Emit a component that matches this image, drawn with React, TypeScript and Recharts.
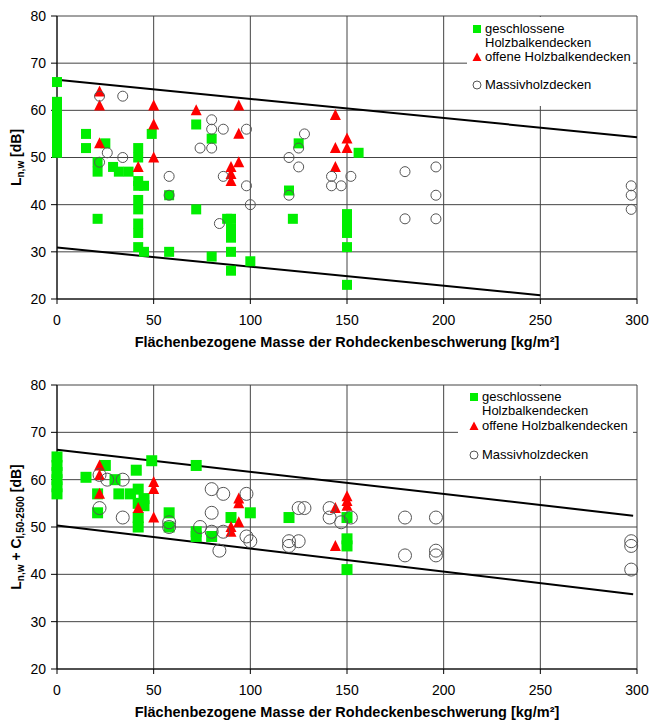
import React from "react"
import {
  ScatterChart, Scatter, XAxis, YAxis, CartesianGrid, ReferenceLine, Legend
} from "recharts"

type Pt = { x: number; y: number }
const toPts = (rows: number[][]): Pt[] => rows.map(([x, y]) => ({ x, y }))

const xTicks = [0, 50, 100, 150, 200, 250, 300]
const yTicks = [20, 30, 40, 50, 60, 70, 80]
const xTitle = "Flächenbezogene Masse der Rohdeckenbeschwerung [kg/m²]"
const nameClosed = ["geschlossene", "Holzbalkendecken"]
const nameOpen = "offene Holzbalkendecken"
const nameSolid = "Massivholzdecken"

// upper chart: Ln,w
const closedLnw = toPts([
  [0, 51], [0, 52.5], [0, 54], [0, 55.5], [0, 57], [0, 58.5], [0, 60], [0, 61.8], [0, 66],
  [15, 55], [15, 52], [21, 49], [21, 47], [21, 37], [25, 53], [29, 48], [32, 47], [37, 47],
  [42, 52], [42, 50], [42, 45], [42, 44], [42, 41], [42, 39], [42, 36], [42, 34], [42, 31],
  [45, 44], [45, 30], [49, 55], [58, 42], [58, 30], [72, 57], [72, 39], [80, 54], [80, 29],
  [88, 37], [90, 37], [90, 35], [90, 33], [90, 30], [90, 26], [100, 28], [120, 43], [122, 37],
  [125, 53], [150, 38], [150, 36], [150, 34], [150, 31], [150, 23], [156, 51],
])
const openLnw = toPts([
  [22, 64], [22, 61], [22, 53], [42, 48], [50, 61], [50, 57], [50, 50], [72, 60],
  [90, 48], [90, 46.5], [90, 45], [94, 61], [94, 55], [94, 49], [144, 59], [144, 52], [144, 48],
  [150, 54], [150, 52],
])
const solidLnw = toPts([
  [22, 63], [34, 63], [22, 49], [26, 51], [34, 50], [58, 46], [58, 42], [74, 52], [80, 58],
  [80, 56], [80, 52], [86, 56], [86, 46], [84, 36], [98, 56], [98, 44], [100, 40], [120, 50],
  [120, 42], [125, 52], [125, 48], [128, 55], [142, 46], [142, 44], [147, 44], [152, 46],
  [180, 47], [180, 37], [196, 48], [196, 42], [196, 37], [297, 44], [297, 42], [297, 39],
])
const upperLnw = toPts([[0, 66.5], [300, 54.3]])
const lowerLnw = toPts([[0, 30.9], [250, 20.8]])

// lower chart: Ln,w + CI,50-2500
const closedSum = toPts([
  [0, 57], [0, 58.5], [0, 60], [0, 61.5], [0, 63], [0, 64.8],
  [15, 60.5], [21, 57], [21, 53], [25, 63], [30, 60], [32, 57], [38, 57], [41, 62],
  [42, 58], [42, 55], [42, 52], [42, 50], [45, 56], [45, 54.5], [49, 64], [58, 53], [58, 50],
  [72, 63], [72, 49], [72, 48], [80, 48], [90, 52], [100, 53], [120, 52],
  [150, 52], [150, 47.5], [150, 46], [150, 41],
])
const openSum = toPts([
  [22, 63], [22, 61], [22, 57], [42, 54], [50, 59.5], [50, 58], [50, 52], [90, 50], [90, 49],
  [94, 56], [94, 55], [94, 51], [144, 54], [144, 46], [150, 56.5], [150, 55.5], [150, 54.5],
])
const solidSum = toPts([
  [22, 61], [22, 54], [26, 60], [34, 60], [34, 52], [58, 51], [58, 50], [74, 50], [80, 58],
  [80, 53], [80, 49], [86, 57], [86, 49], [84, 45], [98, 57], [98, 48], [100, 47], [120, 47],
  [120, 46], [125, 47], [125, 54], [128, 54], [141, 54], [141, 52], [147, 51], [152, 52],
  [180, 52], [180, 44], [196, 52], [196, 45], [196, 44], [297, 47], [297, 46], [297, 41],
])
const upperSum = toPts([[0, 66.3], [298, 52.4]])
const lowerSum = toPts([[0, 50.3], [298, 35.8]])

const FONT = '"Liberation Sans", Arial, Helvetica, sans-serif'
const GREEN = "#00ee00"
const RED = "#ff0000"

const square = (s: number) => (p: any) =>
  <rect x={p.cx - s / 2} y={p.cy - s / 2} width={s} height={s} fill={GREEN} />
const triangle = (s: number) => (p: any) =>
  <path d={`M${p.cx},${p.cy - s * 0.55}L${p.cx + s / 2},${p.cy + s * 0.45}L${p.cx - s / 2},${p.cy + s * 0.45}Z`} fill={RED} />
const ring = (r: number) => (p: any) =>
  <circle cx={p.cx} cy={p.cy} r={r} fill="none" stroke="#555" strokeWidth={1} />

function LegendBox({ padTop, lineH, iconX, textX }: { padTop: number; lineH: number; iconX: number; textX: number }) {
  const row = (icon: React.ReactNode, text: string) => (
    <div style={{ position: "relative", height: lineH, paddingLeft: textX, whiteSpace: "nowrap" }}>
      {icon && <svg width={10} height={10} style={{ position: "absolute", left: iconX - 5, top: lineH / 2 - 5 }}>{icon}</svg>}
      {text}
    </div>
  )
  return (
    <div style={{ background: "#fff", width: "100%", height: "100%", boxSizing: "border-box", paddingTop: padTop, fontFamily: FONT, fontSize: 13, lineHeight: `${lineH}px`, color: "#000" }}>
      {row(<rect x={1} y={1} width={8} height={8} fill={GREEN} />, nameClosed[0])}
      {row(null, nameClosed[1])}
      {row(<path d="M5,0.5L9.5,9L0.5,9Z" fill={RED} />, nameOpen)}
      {row(null, "")}
      {row(<circle cx={5} cy={5} r={4} fill="none" stroke="#555" />, nameSolid)}
    </div>
  )
}

const xLabel = (props: any) => {
  const vb = props.viewBox || {}
  return (
    <text x={vb.x + vb.width / 2} y={vb.y + 48} textAnchor="middle" fontFamily={FONT} fontSize={14.5} fontWeight="bold" fill="#000">
      {xTitle}
    </text>
  )
}

const yLabelTop = (props: any) => {
  const vb = props.viewBox || {}
  const cx = 21
  const cy = vb.y + vb.height / 2
  return (
    <text transform={`rotate(-90 ${cx} ${cy})`} x={cx} y={cy} textAnchor="middle" fontFamily={FONT} fontSize={14} fontWeight="bold" fill="#000">
      L<tspan fontSize={10} dy={3}>n,w</tspan><tspan dy={-3}> [dB]</tspan>
    </text>
  )
}

const yLabelBottom = (props: any) => {
  const vb = props.viewBox || {}
  const cx = 21
  const cy = vb.y + vb.height / 2
  return (
    <text transform={`rotate(-90 ${cx} ${cy})`} x={cx} y={cy} textAnchor="middle" fontFamily={FONT} fontSize={14} fontWeight="bold" fill="#000">
      L<tspan fontSize={10} dy={3}>n,w</tspan><tspan dy={-3}> + C</tspan><tspan fontSize={10} dy={3}>I,50-2500</tspan><tspan dy={-3}> [dB]</tspan>
    </text>
  )
}

type PanelProps = {
  height: number
  marginTop: number
  axisH: number
  closed: Pt[]
  open: Pt[]
  solid: Pt[]
  upper: Pt[]
  lower: Pt[]
  yLabel: (p: any) => React.ReactNode
  legend: { left: number; top: number; width: number; height: number; padTop: number; lineH: number; iconX: number; textX: number }
  sq: number
  cr: number
}

function Panel(p: PanelProps) {
  const tick = { fontFamily: FONT, fontSize: 14, fill: "#000" }
  return (
    <ScatterChart width={650} height={p.height} margin={{ top: p.marginTop, right: 13, bottom: 0, left: 0 }}>
      <CartesianGrid stroke="#444" strokeWidth={1} />
      <XAxis type="number" dataKey="x" domain={[0, 300]} ticks={xTicks} height={p.axisH}
        tick={tick} tickSize={5} tickMargin={11} stroke="#000" label={xLabel} />
      <YAxis type="number" dataKey="y" domain={[20, 80]} ticks={yTicks} width={57}
        tick={tick} tickSize={6} tickMargin={5} stroke="#000" label={p.yLabel} />
      <ReferenceLine segment={p.upper} stroke="#000" strokeWidth={2} />
      <ReferenceLine segment={p.lower} stroke="#000" strokeWidth={2} />
      <Scatter data={p.closed} shape={square(p.sq)} isAnimationActive={false} />
      <Scatter data={p.open} shape={triangle(11)} isAnimationActive={false} />
      <Scatter data={p.solid} shape={ring(p.cr)} isAnimationActive={false} />
      <Legend layout="vertical" align="center" verticalAlign="middle"
        width={p.legend.width} height={p.legend.height}
        wrapperStyle={{ left: p.legend.left, top: p.legend.top, width: p.legend.width, height: p.legend.height }}
        content={() => <LegendBox padTop={p.legend.padTop} lineH={p.legend.lineH} iconX={p.legend.iconX} textX={p.legend.textX} />} />
    </ScatterChart>
  )
}

export default function App() {
  return (
    <div style={{ position: "absolute", left: 0, top: 0, width: 650, height: 722, background: "#fff" }}>
      <div style={{ position: "absolute", left: 0, top: 0 }}>
        <Panel height={360} marginTop={16} axisH={61} closed={closedLnw} open={openLnw} solid={solidLnw}
          upper={upperLnw} lower={lowerLnw} yLabel={yLabelTop} sq={10} cr={5}
          legend={{ left: 467, top: 17, width: 166, height: 89, padTop: 5, lineH: 14, iconX: 10, textX: 18 }} />
      </div>
      <div style={{ position: "absolute", left: 0, top: 360 }}>
        <Panel height={362} marginTop={25} axisH={53} closed={closedSum} open={openSum} solid={solidSum}
          upper={upperSum} lower={lowerSum} yLabel={yLabelBottom} sq={11} cr={6.5}
          legend={{ left: 458, top: 26, width: 175, height: 90, padTop: 3.5, lineH: 14.5, iconX: 16, textX: 24 }} />
      </div>
    </div>
  )
}
